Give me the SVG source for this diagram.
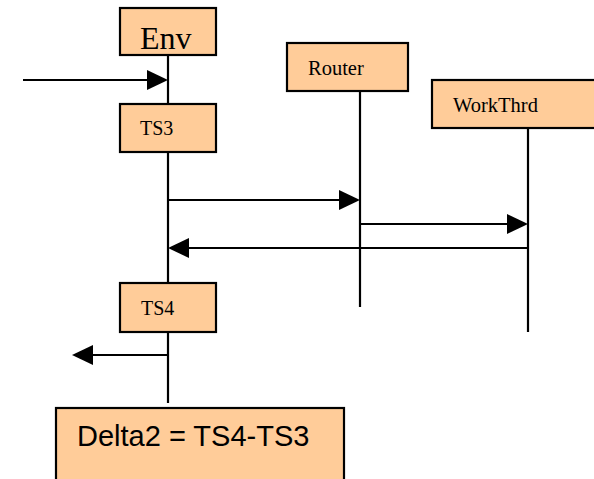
<svg xmlns="http://www.w3.org/2000/svg" width="594" height="479" viewBox="0 0 594 479">
<style>
.box{fill:#FFCC99;stroke:#000;stroke-width:2.2}
.ln{stroke:#000;stroke-width:2.2;fill:none}
.t{font-family:"Liberation Serif","Times New Roman",serif;fill:#000}
.a{font-family:"Liberation Sans",Arial,sans-serif;fill:#000}
.ah{fill:#000}
</style>
<rect width="594" height="479" fill="#fff"/>
<g id="connectors">
<line class="ln" x1="168" y1="55" x2="168" y2="104"/>
<line class="ln" x1="168" y1="152" x2="168" y2="283"/>
<line class="ln" x1="168" y1="332" x2="168" y2="403"/>
<line class="ln" x1="360" y1="91" x2="360" y2="307"/>
<line class="ln" x1="528" y1="128" x2="528" y2="332"/>
<line class="ln" x1="23" y1="80" x2="150" y2="80"/>
<polygon class="ah" points="147,70 168,80 147,90"/>
<line class="ln" x1="168" y1="200" x2="342" y2="200"/>
<polygon class="ah" points="339,190 360,200 339,210"/>
<line class="ln" x1="360" y1="224" x2="510" y2="224"/>
<polygon class="ah" points="507,214 528,224 507,234"/>
<line class="ln" x1="528" y1="248" x2="186" y2="248"/>
<polygon class="ah" points="189,238 168,248 189,258"/>
<line class="ln" x1="168" y1="355" x2="90" y2="355"/>
<polygon class="ah" points="93,345 72,355 93,365"/>
</g>
<g id="env">
<rect class="box" x="120" y="8" width="96" height="47"/>
<text class="t" x="140" y="49" font-size="32">Env</text>
</g>
<g id="ts3">
<rect class="box" x="120" y="104" width="96" height="48"/>
<text class="t" x="140" y="135" font-size="20">TS3</text>
</g>
<g id="router">
<rect class="box" x="287" y="43" width="121" height="48"/>
<text class="t" x="308" y="75" font-size="20.5">Router</text>
</g>
<g id="workthrd">
<rect class="box" x="432" y="80" width="170" height="48"/>
<text class="t" x="453" y="112" font-size="20.5">WorkThrd</text>
</g>
<g id="ts4">
<rect class="box" x="120" y="283" width="96" height="49"/>
<text class="t" x="141" y="315" font-size="20">TS4</text>
</g>
<g id="delta">
<rect class="box" x="56" y="408" width="288" height="80"/>
<text class="a" x="77" y="446" font-size="29">Delta2 = TS4-TS3</text>
</g>
</svg>
